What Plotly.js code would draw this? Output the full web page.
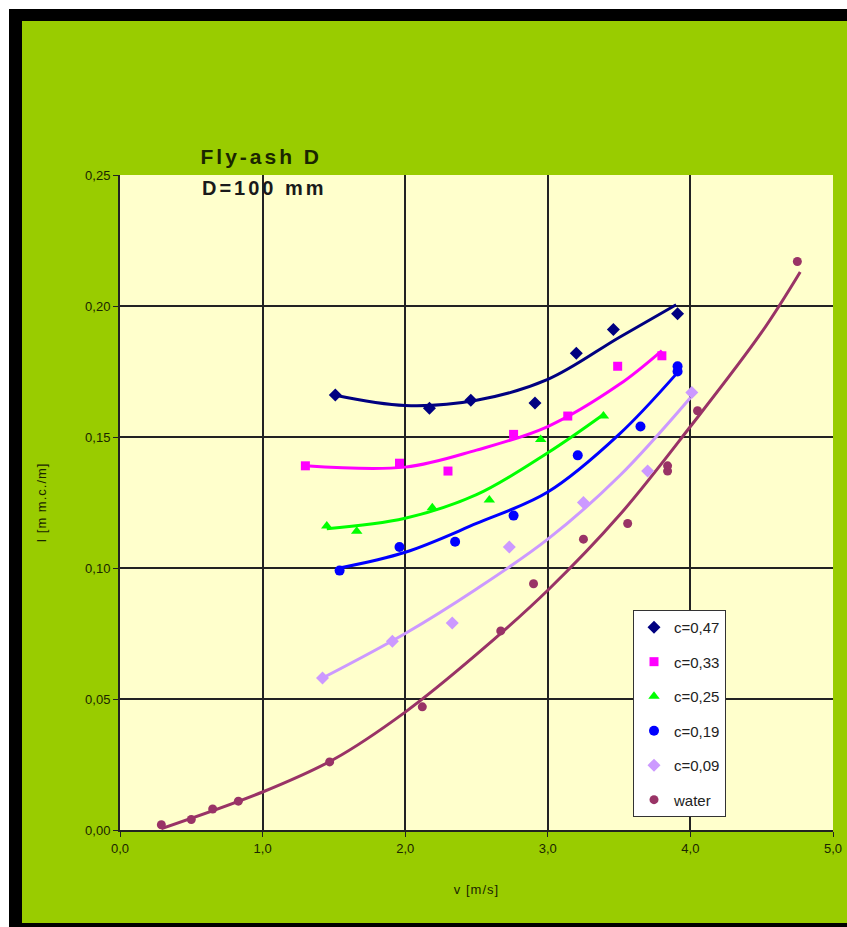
<!DOCTYPE html>
<html>
<head>
<meta charset="utf-8">
<script src="https://cdn.plot.ly/plotly-3.0.1.min.js"></script>
<style>
  html, body { margin: 0; padding: 0; background: #ffffff; width: 847px; height: 927px; overflow: hidden; }
  #frame { position: absolute; left: 9px; top: 9px; width: 838px; height: 918px; background: #000000; }
  #chart { position: absolute; left: 22px; top: 21px; width: 825px; height: 902px; }
  #chart .annotation-text { letter-spacing: 3px; }
  #chart .g-xtitle text, #chart .g-ytitle text { letter-spacing: 1px; }
</style>
</head>
<body>
<div id="frame"></div>
<div id="chart"></div>
<script>
// ---- data ----
const seriesNames = ["c=0,47", "c=0,33", "c=0,25", "c=0,19", "c=0,09", "water"];

const v47 = [1.51, 2.17, 2.46, 2.91, 3.20, 3.46, 3.91];
const i47 = [0.166, 0.161, 0.164, 0.163, 0.182, 0.191, 0.197];
const v33 = [1.30, 1.96, 2.30, 2.76, 3.14, 3.49, 3.80];
const i33 = [0.139, 0.140, 0.137, 0.151, 0.158, 0.177, 0.181];
const v25 = [1.45, 1.66, 2.19, 2.59, 2.95, 3.39];
const i25 = [0.116, 0.114, 0.123, 0.126, 0.149, 0.158];
const v19 = [1.54, 1.96, 2.35, 2.76, 3.21, 3.65, 3.91, 3.91];
const i19 = [0.099, 0.108, 0.110, 0.120, 0.143, 0.154, 0.177, 0.175];
const v09 = [1.42, 1.91, 2.33, 2.73, 3.25, 3.70, 4.01];
const i09 = [0.058, 0.072, 0.079, 0.108, 0.125, 0.137, 0.167];
const vW = [0.29, 0.50, 0.65, 0.83, 1.47, 2.12, 2.67, 2.90, 3.25, 3.56, 3.84, 3.84, 4.05, 4.75];
const iW = [0.002, 0.004, 0.008, 0.011, 0.026, 0.047, 0.076, 0.094, 0.111, 0.117, 0.137, 0.139, 0.160, 0.217];

// trend lines
const tv47 = [1.5, 2.0, 2.5, 3.0, 3.5, 3.9];
const ti47 = [0.166, 0.162, 0.164, 0.172, 0.188, 0.2005];
const tv33 = [1.3, 2.0, 2.5, 3.0, 3.5, 3.8];
const ti33 = [0.139, 0.1385, 0.145, 0.154, 0.170, 0.183];
const tv25 = [1.45, 2.0, 2.5, 3.0, 3.4];
const ti25 = [0.115, 0.119, 0.128, 0.144, 0.159];
const tv19 = [1.54, 2.0, 2.5, 3.0, 3.5, 3.9];
const ti19 = [0.100, 0.106, 0.117, 0.129, 0.151, 0.174];
const tv09 = [1.42, 2.0, 2.5, 3.0, 3.5, 4.0];
const ti09 = [0.058, 0.075, 0.092, 0.111, 0.135, 0.165];
const tvW = [0.29, 1.0, 1.5, 2.0, 2.5, 3.0, 3.5, 4.0, 4.5, 4.77];
const tiW = [0.0005, 0.0145, 0.027, 0.045, 0.067, 0.0915, 0.120, 0.154, 0.190, 0.213];

const xTicks = [0, 1, 2, 3, 4, 5];
const yTicks = [0, 0.05, 0.10, 0.15, 0.20, 0.25];

// ---- styling ----
const colors = ["#000080", "#ff00ff", "#00ff00", "#0000ff", "#cc99ff", "#993366"];
const symbols = ["diamond", "square", "triangle-up", "circle", "diamond", "circle"];
const sizes = [10, 9, 10, 10, 10, 9];

const pts = [[v47, i47], [v33, i33], [v25, i25], [v19, i19], [v09, i09], [vW, iW]];
const trends = [[tv47, ti47], [tv33, ti33], [tv25, ti25], [tv19, ti19], [tv09, ti09], [tvW, tiW]];

const traces = [];
trends.forEach((t, k) => {
  traces.push({
    x: t[0], y: t[1], type: "scatter", mode: "lines",
    line: { color: colors[k], width: 3, shape: "spline", smoothing: 1 },
    showlegend: false, hoverinfo: "skip"
  });
});
pts.forEach((p, k) => {
  traces.push({
    x: p[0], y: p[1], type: "scatter", mode: "markers", name: seriesNames[k],
    legendgroup: "g" + k,
    marker: { color: colors[k], symbol: symbols[k], size: sizes[k] }
  });
});

const tickFont = { family: "Liberation Sans, Arial, sans-serif", size: 13, color: "#1a2600" };

const layout = {
  width: 825, height: 902,
  margin: { l: 98, r: 14, t: 154, b: 93 },
  paper_bgcolor: "#99cc00",
  plot_bgcolor: "#ffffcc",
  separators: ", ",
  showlegend: true,
  legend: {
    x: 0.7195, y: 0.336, xanchor: "left", yanchor: "top",
    bgcolor: "#ffffff", bordercolor: "#333333", borderwidth: 1,
    font: { family: "Liberation Sans, Arial, sans-serif", size: 15, color: "#222222" },
    tracegroupgap: 12, traceorder: "grouped", itemwidth: 30
  },
  xaxis: {
    range: [0, 5], tickvals: xTicks, tickformat: ".1f",
    showgrid: true, gridcolor: "#222222", gridwidth: 2,
    showline: true, linecolor: "#222222", linewidth: 2,
    ticks: "outside", ticklen: 5, tickcolor: "#222222",
    tickfont: tickFont, zeroline: false,
    title: { text: "v [m/s]", font: tickFont, standoff: 30 }
  },
  yaxis: {
    range: [0, 0.25], tickvals: yTicks, tickformat: ".2f",
    showgrid: true, gridcolor: "#222222", gridwidth: 2,
    showline: true, linecolor: "#222222", linewidth: 2,
    ticks: "outside", ticklen: 5, tickcolor: "#222222",
    tickfont: tickFont, zeroline: false,
    title: { text: "I [m m.c./m]", font: tickFont, standoff: 36 }
  },
  annotations: [
    { text: "<b>Fly-ash D</b>", xref: "paper", yref: "paper", x: 0.199, y: 1.0275,
      xanchor: "center", yanchor: "middle", showarrow: false,
      font: { family: "Liberation Sans, Arial, sans-serif", size: 21, color: "#1a2600" } },
    { text: "<b>D=100 mm</b>", xref: "paper", yref: "paper", x: 0.203, y: 0.980,
      xanchor: "center", yanchor: "middle", showarrow: false,
      font: { family: "Liberation Sans, Arial, sans-serif", size: 20, color: "#1a1a1a" } }
  ]
};

Plotly.newPlot("chart", traces, layout, { displayModeBar: false, staticPlot: true });
</script>
</body>
</html>
